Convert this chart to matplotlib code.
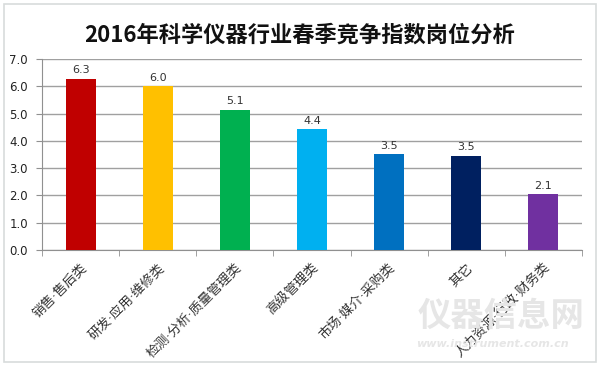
import matplotlib
matplotlib.use("Agg")
import matplotlib.pyplot as plt
from matplotlib.patches import Rectangle

plt.rcParams['font.family'] = ['Noto Sans CJK SC', 'DejaVu Sans']

# data
categories = ['销售·售后类', '研发·应用·维修类', '检测·分析·质量管理类', '高级管理类',
              '市场·媒介·采购类', '其它', '人力资源·行政·财务类']
values = [6.28, 6.0, 5.14, 4.42, 3.5, 3.46, 2.06]
colors = ['#C00000', '#FFC000', '#00B050', '#00B0F0', '#0070C0', '#002060', '#7030A0']
title = '2016年科学仪器行业春季竞争指数岗位分析'

fig = plt.figure(figsize=(6, 3.68), dpi=100)
ax = fig.add_axes([0.07, 0.3207, 0.9, 0.519])

x = list(range(len(categories)))
bars = ax.bar(x, values, width=0.39, color=colors, zorder=3)
for b, v in zip(bars, values):
    ax.text(b.get_x() + b.get_width() / 2, v + 0.12, '%.1f' % v,
            ha='center', va='bottom', fontsize=8, color='#333333', family='DejaVu Sans')

ax.set_xlim(-0.5, len(categories) - 0.5)
ax.set_ylim(0, 7)
ax.set_yticks([i for i in range(8)])
ax.set_yticklabels(['%.1f' % i for i in range(8)], fontsize=8.5, color='#222222', family='DejaVu Sans')
ax.yaxis.grid(True, color='#a0a0a0', linewidth=1, zorder=0)
ax.set_xticks(x)
ax.set_xticklabels(categories, rotation=45, ha='right', rotation_mode='anchor',
                   fontsize=9.5, color='#333333', family=['DejaVu Sans', 'Noto Sans CJK SC'])
ax.set_xticks([i + 0.5 for i in range(-1, len(categories))], minor=True)
ax.tick_params(axis='x', which='major', length=0, pad=8)
ax.tick_params(axis='x', which='minor', length=4, color='#909090', direction='out')
ax.tick_params(axis='y', length=4, color='#909090', direction='out', pad=6)

for s in ['top', 'right']:
    ax.spines[s].set_visible(False)
for s in ['left', 'bottom']:
    ax.spines[s].set_color('#909090')

fig.text(0.5, 0.905, title, ha='center', va='center', fontsize=16, fontweight='bold', color='#111111')

# watermark
fig.text(0.835, 0.14, '仪器信息网', ha='center', va='center', fontsize=24, fontweight='bold',
         color='#e6e6e6', zorder=0)
fig.text(0.82, 0.065, 'www.instrument.com.cn', ha='center', va='center', fontsize=8,
         fontweight='bold', style='italic', color='#e6e6e6', family='DejaVu Sans', zorder=0)

# outer frame
fig.patches.append(Rectangle((0.007, 0.016), 0.986, 0.972, transform=fig.transFigure,
                             fill=False, edgecolor='#d8dcdc', linewidth=1.2))

fig.savefig('out.png', dpi=100)
